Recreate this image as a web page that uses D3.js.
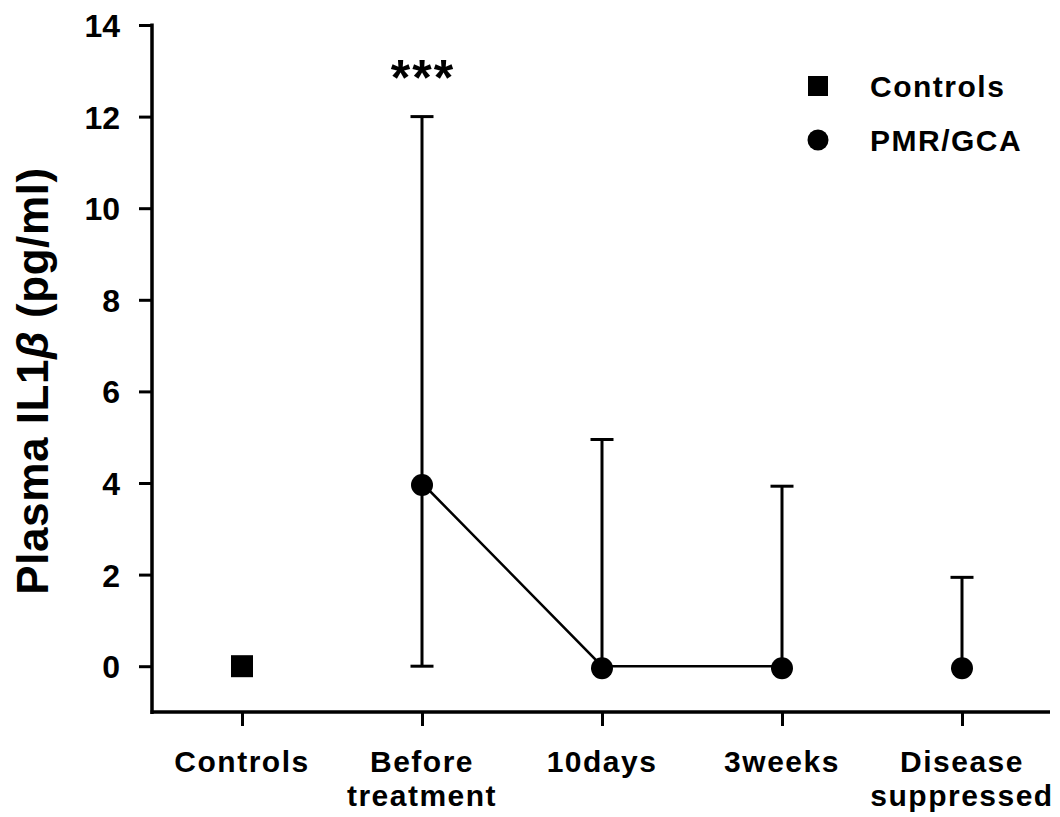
<!DOCTYPE html>
<html>
<head>
<meta charset="utf-8">
<script src="https://cdn.jsdelivr.net/npm/d3@7"></script>
<style>
  html, body { margin: 0; padding: 0; background: #fff; }
  svg { display: block; }
  text { font-family: "Liberation Sans", Arial, Helvetica, sans-serif; font-weight: bold; fill: #000; }
</style>
</head>
<body>
<svg id="chart" width="1060" height="817"></svg>
<script>
// ---- data ----
const categories = ["Controls", "Before treatment", "10days", "3weeks", "Disease suppressed"];
const categoryLines = [["Controls"], ["Before", "treatment"], ["10days"], ["3weeks"], ["Disease", "suppressed"]];
const controlsValue = [{ cat: "Controls", value: 0 }];
const patientCats = ["Before treatment", "10days", "3weeks", "Disease suppressed"];
const patientMedian = [4, 0, 0, 0];
const patientLow = [0, 0, 0, 0];
const patientHigh = [12, 4.95, 3.93, 1.94];
const connected = [true, true, true, false];
const yTicks = [0, 2, 4, 6, 8, 10, 12, 14];
const yLabel = "Plasma IL1";
const legendItems = ["Controls", "PMR/GCA"];
const significance = { cat: "Before treatment", text: "***" };

// ---- layout ----
const svg = d3.select("#chart");
const x = d3.scalePoint().domain(categories).range([242, 962]);
const y = d3.scaleLinear().domain([-1, 14]).range([712, 25]);
const axisLeftX = 152, axisRightX = 1050;

// y axis
const yAxis = d3.axisLeft(y).tickValues(yTicks).tickSize(13).tickSizeOuter(0).tickPadding(19);
const gy = svg.append("g").attr("transform", `translate(${axisLeftX},0)`).call(yAxis);
gy.select(".domain").remove();
gy.selectAll(".tick line").attr("stroke", "#000").attr("stroke-width", 3);
gy.selectAll(".tick text").attr("font-size", 32).attr("font-family", null).attr("dy", "0.36em");
svg.append("line").attr("x1", axisLeftX).attr("x2", axisLeftX).attr("y1", y(14) - 1.5).attr("y2", y(-1) + 2)
  .attr("stroke", "#000").attr("stroke-width", 3.5);

// x axis
const xAxis = d3.axisBottom(x).tickSize(14).tickSizeOuter(0).tickFormat(() => "");
const gx = svg.append("g").attr("transform", `translate(0,${y(-1)})`).call(xAxis);
gx.select(".domain").remove();
gx.selectAll(".tick line").attr("stroke", "#000").attr("stroke-width", 3);
svg.append("line").attr("x1", axisLeftX - 1.5).attr("x2", axisRightX).attr("y1", y(-1)).attr("y2", y(-1))
  .attr("stroke", "#000").attr("stroke-width", 3.5);
const xl = svg.append("g");
categories.forEach((c, i) => {
  const t = xl.append("text").attr("x", x(c)).attr("y", 772).attr("text-anchor", "middle")
    .attr("font-size", 30).attr("letter-spacing", 1.5);
  categoryLines[i].forEach((ln, j) => {
    t.append("tspan").attr("x", x(c)).attr("dy", j === 0 ? 0 : 34).text(ln);
  });
});

// y label
const yl = svg.append("text").attr("transform", `translate(48,381) rotate(-90)`)
  .attr("text-anchor", "middle").attr("font-size", 44).attr("letter-spacing", 0.6);
yl.append("tspan").text(yLabel);
yl.append("tspan").attr("font-style", "italic").text("\u03B2");
yl.append("tspan").text(" (pg/ml)");

// patient data
const pdata = patientCats.map((c, i) => ({ cat: c, med: patientMedian[i], lo: patientLow[i], hi: patientHigh[i], conn: connected[i] }));
const capW = 23;
const eb = svg.append("g").attr("stroke", "#000").attr("stroke-width", 3);
pdata.forEach(d => {
  eb.append("line").attr("x1", x(d.cat)).attr("x2", x(d.cat)).attr("y1", y(d.lo)).attr("y2", y(d.hi));
  eb.append("line").attr("x1", x(d.cat) - capW / 2).attr("x2", x(d.cat) + capW / 2).attr("y1", y(d.hi)).attr("y2", y(d.hi));
  if (d.lo < d.med) {
    eb.append("line").attr("x1", x(d.cat) - capW / 2).attr("x2", x(d.cat) + capW / 2).attr("y1", y(d.lo)).attr("y2", y(d.lo));
  }
});
const line = d3.line().x(d => x(d.cat)).y(d => y(d.med));
svg.append("path").datum(pdata.filter(d => d.conn)).attr("d", line)
  .attr("fill", "none").attr("stroke", "#000").attr("stroke-width", 2.5);
svg.append("g").selectAll("circle").data(pdata).join("circle")
  .attr("cx", d => x(d.cat)).attr("cy", d => y(d.med) + 2).attr("r", 11).attr("fill", "#000");

// controls
svg.append("g").selectAll("rect").data(controlsValue).join("rect")
  .attr("x", d => x(d.cat) - 11).attr("y", d => y(d.value) - 11).attr("width", 22).attr("height", 22).attr("fill", "#000");

// significance
svg.append("text").attr("x", x(significance.cat) + 1).attr("y", 95).attr("text-anchor", "middle")
  .attr("font-size", 50).attr("letter-spacing", 2).text(significance.text);

// legend
const lg = svg.append("g");
lg.append("rect").attr("x", 808).attr("y", 76).attr("width", 20).attr("height", 20).attr("fill", "#000");
lg.append("circle").attr("cx", 818).attr("cy", 140).attr("r", 10.5).attr("fill", "#000");
lg.append("text").attr("x", 870).attr("y", 97).attr("font-size", 30).attr("letter-spacing", 1.5).text(legendItems[0]);
lg.append("text").attr("x", 870).attr("y", 151).attr("font-size", 30).attr("letter-spacing", 1.5).text(legendItems[1]);
</script>
</body>
</html>
